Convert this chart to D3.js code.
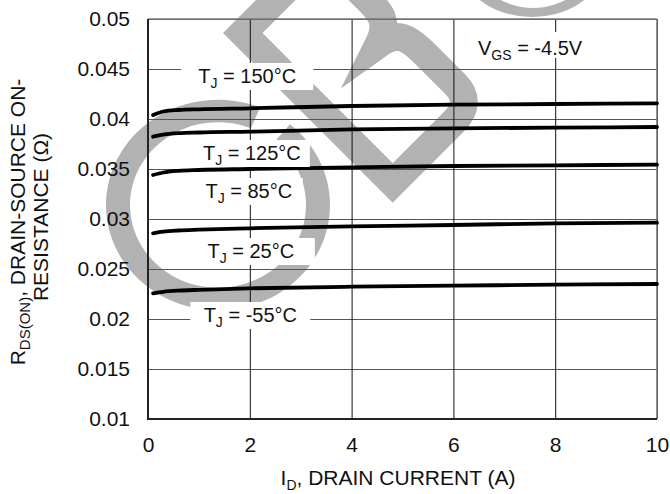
<!DOCTYPE html>
<html>
<head>
<meta charset="utf-8">
<script src="https://cdn.jsdelivr.net/npm/d3@7/dist/d3.min.js"></script>
<style>
  html, body { margin: 0; padding: 0; background: #fff; }
  svg { display: block; font-family: "Liberation Sans", Arial, sans-serif; }
</style>
</head>
<body>
<svg id="chart" width="670" height="494"></svg>
<script>
// ---- data ----
const currents = [0.1, 0.3, 0.6, 1, 2, 4, 6, 8, 10];
const r150 = [0.0404, 0.04075, 0.0409, 0.04097, 0.04107, 0.0413, 0.04143, 0.0415, 0.04157];
const r125 = [0.03823, 0.03843, 0.03858, 0.03865, 0.03873, 0.03897, 0.03907, 0.03913, 0.0392];
const r85  = [0.0344, 0.03465, 0.03482, 0.0349, 0.035, 0.03517, 0.0353, 0.03537, 0.03543];
const r25  = [0.02857, 0.02873, 0.02885, 0.02893, 0.02907, 0.02927, 0.0294, 0.02957, 0.02963];
const rm55 = [0.02257, 0.02272, 0.02284, 0.02292, 0.02307, 0.02323, 0.02333, 0.02343, 0.0235];
const temps = ["150", "125", "85", "25", "-55"];
const xTicks = [0, 2, 4, 6, 8, 10];
const xTickLabels = ["0", "2", "4", "6", "8", "10"];
const yTicks = [0.01, 0.015, 0.02, 0.025, 0.03, 0.035, 0.04, 0.045, 0.05];
const yTickLabels = ["0.01", "0.015", "0.02", "0.025", "0.03", "0.035", "0.04", "0.045", "0.05"];

const seriesList = [r150, r125, r85, r25, rm55];

// ---- layout ----
const svg = d3.select("#chart");
const L = 148, R = 657, T = 19, B = 419;
const x = d3.scaleLinear().domain([0, 10]).range([L, R]);
const y = d3.scaleLinear().domain([0.01, 0.05]).range([B, T]);
const FS = 21;
const grey = "#b2b2b2";

// ---- watermark ----
const wm = svg.append("g");
wm.append("path")
  .attr("transform", "translate(218,205) scale(1,0.94)")
  .attr("d", d3.arc()({innerRadius: 88, outerRadius: 112,
        startAngle: 40 * Math.PI / 180, endAngle: (22 + 360) * Math.PI / 180}))
  .attr("fill", grey);
wm.append("path")
  .attr("transform", "translate(223,33) rotate(-45)")
  .attr("d", "M102,118 C126,110 126,95 126,80 L126,50 Q126,14 90,14 L14,14 L14,226 L100,226 Q128,226 128,200 L128,160 C128,135 126,122 102,118 Z")
  .attr("fill", "none").attr("stroke", grey).attr("stroke-width", 28)
  .attr("stroke-linejoin", "miter").attr("stroke-miterlimit", 10);
function ell(cx, cy, rx, ry) {
  return `M${cx - rx},${cy} A${rx},${ry} 0 1 0 ${cx + rx},${cy} A${rx},${ry} 0 1 0 ${cx - rx},${cy} Z`;
}
wm.append("path")
  .attr("d", ell(532, -43, 75, 60) + ell(533, -43, 60, 51))
  .attr("fill-rule", "evenodd").attr("fill", grey);

// ---- grid via axes ----
const yAxis = d3.axisLeft(y).tickValues(yTicks)
  .tickFormat((d, i) => yTickLabels[i])
  .tickSizeInner(-(R - L)).tickSizeOuter(0).tickPadding(18);
const gy = svg.append("g").attr("transform", `translate(${L},0)`).call(yAxis);
gy.select(".domain").remove();
gy.selectAll(".tick line").attr("stroke", "#555").attr("stroke-width", 1.2);
gy.selectAll(".tick text").attr("font-size", FS).attr("fill", "#111")
  .attr("font-family", "Liberation Sans, Arial, sans-serif");

const xAxis = d3.axisBottom(x).tickValues(xTicks)
  .tickFormat((d, i) => xTickLabels[i])
  .tickSizeInner(-(B - T)).tickSizeOuter(0).tickPadding(18);
const gx = svg.append("g").attr("transform", `translate(0,${B})`).call(xAxis);
gx.select(".domain").remove();
gx.selectAll(".tick line").attr("stroke", "#111").attr("stroke-width", 1);
gx.selectAll(".tick text").attr("font-size", FS).attr("fill", "#111")
  .attr("font-family", "Liberation Sans, Arial, sans-serif");

// frame
svg.append("line").attr("x1", L).attr("x2", R).attr("y1", T).attr("y2", T)
  .attr("stroke", "#777").attr("stroke-width", 1.6);
svg.append("line").attr("x1", R).attr("x2", R).attr("y1", T).attr("y2", B)
  .attr("stroke", "#777").attr("stroke-width", 1.6);
svg.append("line").attr("x1", L).attr("x2", L).attr("y1", T).attr("y2", B + 1)
  .attr("stroke", "#222").attr("stroke-width", 2);
svg.append("line").attr("x1", L).attr("x2", R).attr("y1", B).attr("y2", B)
  .attr("stroke", "#222").attr("stroke-width", 2);

// ---- curves ----
const line = d3.line().x((d, i) => x(currents[i])).y(d => y(d)).curve(d3.curveMonotoneX);
svg.append("g").selectAll("path").data(seriesList).join("path")
  .attr("d", d => line(d))
  .attr("fill", "none").attr("stroke", "#000").attr("stroke-width", 3.8)
  .attr("stroke-linecap", "round");

// ---- labels ----
// [center x (A), baseline (Ohm), box half width px]
const labelPos = [
  [1.95, 0.04360, 66],
  [2.04, 0.03590, 58],
  [1.98, 0.03210, 54],
  [2.02, 0.02610, 64],
  [2.01, 0.01970, 60]
];
const lg = svg.append("g");
temps.forEach((t, i) => {
  const cx = x(labelPos[i][0]);
  const by = y(labelPos[i][1]);
  const hw = labelPos[i][2];
  lg.append("rect").attr("x", cx - hw).attr("y", by - 20).attr("width", hw * 2).attr("height", 27)
    .attr("fill", "#fff");
  const tx = lg.append("text").attr("x", cx).attr("y", by).attr("text-anchor", "middle")
    .attr("font-size", 20).attr("fill", "#111");
  tx.append("tspan").text("T");
  tx.append("tspan").attr("font-size", 14).attr("dy", 5).text("J");
  tx.append("tspan").attr("dy", -5).text(" = " + t + "°C");
});

// V_GS
lg.append("rect").attr("x", 472).attr("y", 32).attr("width", 116).attr("height", 26).attr("fill", "#fff");
const vt = lg.append("text").attr("x", 478).attr("y", 55).attr("font-size", 20).attr("fill", "#111");
vt.append("tspan").text("V");
vt.append("tspan").attr("font-size", 14).attr("dy", 5).text("GS");
vt.append("tspan").attr("dy", -5).text(" = -4.5V");

// axis titles
const xt = svg.append("text").attr("x", 398).attr("y", 485).attr("text-anchor", "middle")
  .attr("font-size", FS).attr("fill", "#111");
xt.append("tspan").text("I");
xt.append("tspan").attr("font-size", 14).attr("dy", 5).text("D");
xt.append("tspan").attr("dy", -5).text(", DRAIN CURRENT (A)");

const yt1 = svg.append("text").attr("transform", "translate(25,222) rotate(-90)")
  .attr("text-anchor", "middle").attr("font-size", FS).attr("fill", "#111");
yt1.append("tspan").text("R");
yt1.append("tspan").attr("font-size", 15).attr("dy", 5).text("DS(ON)");
yt1.append("tspan").attr("dy", -5).text(", DRAIN-SOURCE ON-");
svg.append("text").attr("transform", "translate(48,217) rotate(-90)")
  .attr("text-anchor", "middle").attr("font-size", FS).attr("fill", "#111")
  .text("RESISTANCE (Ω)");
</script>
</body>
</html>
